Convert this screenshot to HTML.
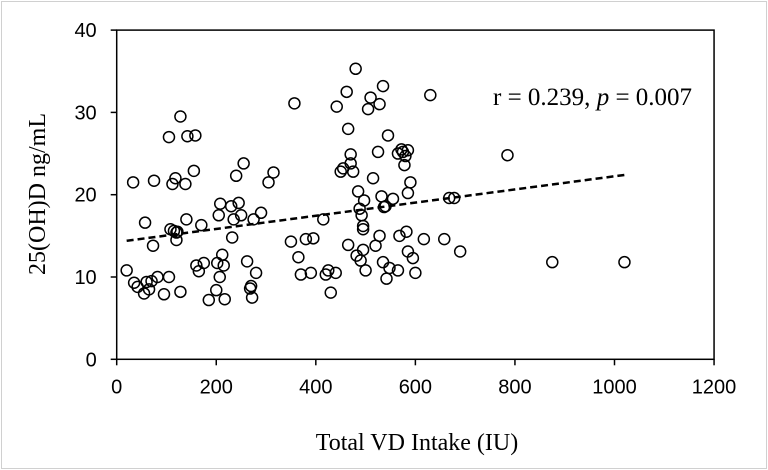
<!DOCTYPE html>
<html><head><meta charset="utf-8"><style>
body{margin:0;background:#fff}
svg{display:block}
</style></head><body>
<svg width="768" height="470" viewBox="0 0 768 470">
<rect x="1.5" y="1.5" width="765" height="467" fill="#fff" stroke="#d0d0d0"/>
<g id="axes"></g>
<g id="pts"></g>
<text x="493" y="105" font-family="Liberation Serif, serif" font-size="25">r = 0.239, <tspan font-style="italic">p</tspan> = 0.007</text>
<text x="417" y="450" text-anchor="middle" font-family="Liberation Serif, serif" font-size="24">Total VD Intake (IU)</text>
<text transform="translate(45,194) rotate(-90)" text-anchor="middle" font-family="Liberation Serif, serif" font-size="24">25(OH)D ng/mL</text>
</svg>
<script>
const xTicks=[0,200,400,600,800,1000,1200];
const yTicks=[0,10,20,30,40];
const xVals=[20,33,35,42,55,57,60,65,70,73,75,82,95,105,105,108,112,115,118,120,120,122,128,128,138,140,142,155,158,160,165,170,175,185,200,202,205,207,208,212,215,217,230,232,235,240,245,250,255,262,268,270,272,275,280,290,305,315,350,357,365,370,380,390,395,415,420,425,430,440,442,450,455,462,465,465,470,470,475,480,482,485,488,490,492,495,495,495,497,500,505,510,515,520,525,528,528,532,535,535,537,540,542,545,548,555,565,565,568,572,575,578,580,582,585,585,585,590,595,600,617,630,658,668,678,690,785,875,1020];
const yVals=[10.8,21.5,9.3,8.8,8,16.6,9.4,8.5,9.5,13.8,21.7,10,7.9,27,10,15.8,21.3,15.6,22,15.4,14.5,15.5,29.5,8.2,21.3,17,27.1,22.9,27.2,11.4,10.7,16.3,11.7,7.2,8.4,11.7,17.5,10,18.9,12.7,11.4,7.3,18.6,14.8,17,22.3,19,17.5,23.8,11.9,8.6,8.9,7.5,17,10.5,17.8,21.5,22.7,14.3,31.1,12.4,10.3,14.6,10.5,14.7,17,10.3,10.8,8.1,10.5,30.7,22.8,23.2,32.5,13.9,28,24.9,23.8,22.8,35.3,12.6,20.4,18.3,12,17.5,15.8,16.2,13.3,19.3,10.8,30.4,31.8,22,13.8,25.2,15,31,19.8,33.2,11.8,18.5,18.6,9.8,27.2,11.1,19.5,25,10.8,15,25.5,25.2,23.6,24.7,15.5,25.4,20.2,13.1,21.5,12.3,10.5,14.6,32.1,14.6,19.6,19.6,13.1,24.8,11.8,11.8];
const trendX=[20,1020];
const trendY=[14.4,22.4];
const NS='http://www.w3.org/2000/svg';
const X=v=>116.7+v*0.4978;
const Y=v=>359.3-v*8.23;
function mk(t,a,p){const e=document.createElementNS(NS,t);for(const k in a)e.setAttribute(k,a[k]);p.appendChild(e);return e;}
const ax=document.getElementById('axes');
const box=mk('rect',{x:X(0),y:Y(40),width:X(1200)-X(0),height:Y(0)-Y(40),fill:'none',stroke:'#000','stroke-width':1.5},ax);


xTicks.forEach(t=>{
 const tk=mk('line',{x1:X(t),y1:Y(0),x2:X(t),y2:Y(0)+6,stroke:'#000','stroke-width':1.5},ax);
 
 
 const tx=mk('text',{x:X(t),y:Y(0)+34,'text-anchor':'middle','font-family':'Liberation Sans, sans-serif','font-size':20},ax);
 tx.textContent=t;
 
 
});
yTicks.forEach(t=>{
 const tk=mk('line',{x1:X(0)-6,y1:Y(t),x2:X(0),y2:Y(t),stroke:'#000','stroke-width':1.5},ax);
 
 
 const tx=mk('text',{x:X(0)-20,y:Y(t)+7,'text-anchor':'end','font-family':'Liberation Sans, sans-serif','font-size':20},ax);
 tx.textContent=t;
 
 
});
const pg=document.getElementById('pts');
xVals.forEach((v,i)=>{
 const c=mk('circle',{cx:X(v),cy:Y(yVals[i]),r:5.5,fill:'none',stroke:'#000','stroke-width':1.5},pg);
 
 
});
const tl=mk('line',{x1:X(trendX[0]),y1:Y(trendY[0]),x2:X(trendX[1]),y2:Y(trendY[1]),stroke:'#000','stroke-width':2.5,'stroke-dasharray':'7,4'},pg);


</script>
</body></html>
